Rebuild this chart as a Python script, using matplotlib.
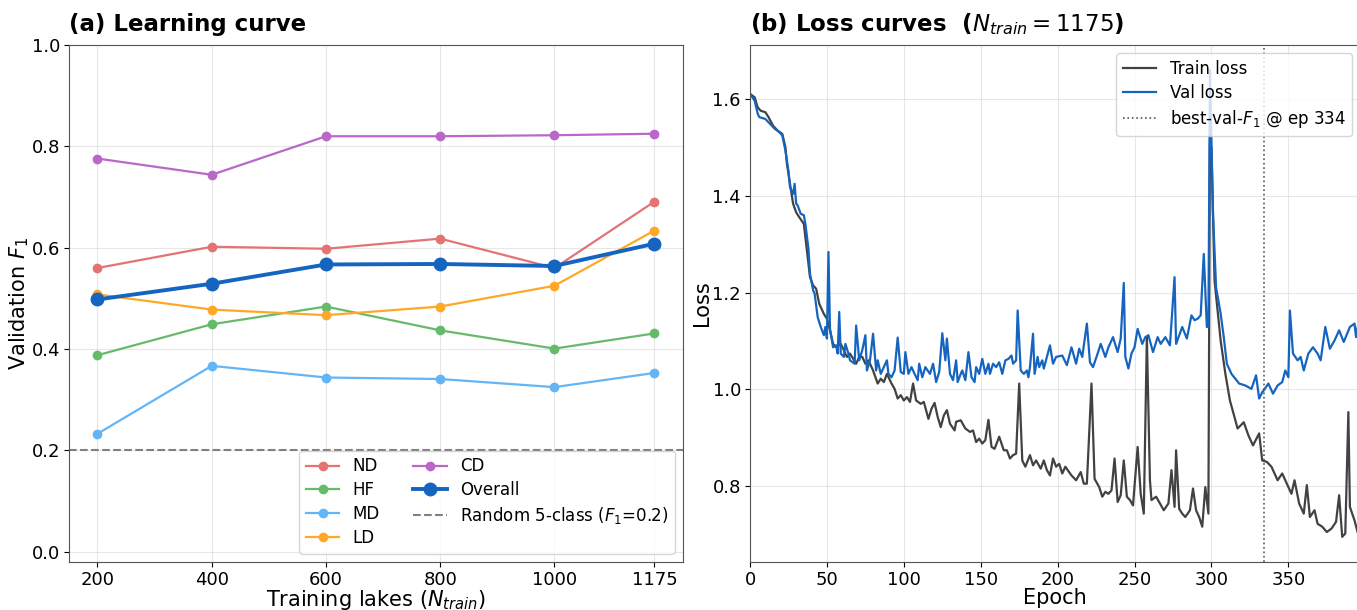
import numpy as np
import matplotlib
matplotlib.use("Agg")
import matplotlib.pyplot as plt

# (a) learning curve data
n_train = [200, 400, 600, 800, 1000, 1175]
f1_nd = [0.560, 0.602, 0.598, 0.618, 0.560, 0.691]
f1_hf = [0.388, 0.449, 0.484, 0.437, 0.401, 0.431]
f1_md = [0.233, 0.367, 0.344, 0.341, 0.325, 0.353]
f1_ld = [0.508, 0.478, 0.467, 0.484, 0.525, 0.634]
f1_cd = [0.776, 0.744, 0.820, 0.820, 0.822, 0.825]
f1_overall = [0.498, 0.529, 0.567, 0.568, 0.564, 0.608]
random_f1 = 0.2

# (b) loss curves
train_ep = [0, 3, 5, 7, 10, 12, 15, 18, 21, 23, 24, 26, 28, 30, 32, 35, 37, 39, 41, 43,
            45, 48, 50, 52, 54, 56, 59, 61, 63, 65, 69, 71, 73, 75, 77, 80, 83, 85, 87, 89,
            92, 94, 96, 98, 100, 102, 104, 106, 108, 111, 113, 116, 118, 120, 122, 124, 126, 128, 130, 133,
            134, 137, 140, 143, 145, 147, 149, 151, 153, 155, 157, 159, 162, 165, 167, 169, 171, 173, 175, 177,
            179, 182, 184, 186, 189, 191, 193, 195, 197, 199, 201, 203, 205, 209, 212, 215, 217, 219, 220, 222,
            224, 227, 229, 231, 233, 235, 237, 239, 241, 243, 245, 247, 249, 252, 254, 256, 258, 260, 261, 264,
            266, 269, 272, 274, 276, 277, 279, 281, 283, 286, 288, 290, 292, 294, 296, 298, 299, 300, 301, 302,
            306, 309, 312, 317, 321, 324, 327, 331, 333, 336, 339, 343, 346, 350, 352, 354, 357, 360, 362, 364,
            367, 369, 372, 375, 378, 381, 383, 385, 387, 389, 390, 393, 395]
train_loss = [1.611, 1.604, 1.583, 1.576, 1.573, 1.563, 1.545, 1.535, 1.528, 1.501, 1.466, 1.425, 1.384, 1.366, 1.356, 1.342, 1.287, 1.232, 1.215, 1.208,
              1.177, 1.156, 1.146, 1.122, 1.094, 1.087, 1.094, 1.081, 1.067, 1.074, 1.053, 1.067, 1.067, 1.053, 1.060, 1.039, 1.012, 1.022, 1.015, 1.032,
              1.012, 1.001, 0.981, 0.988, 0.977, 0.984, 0.974, 1.012, 0.977, 0.970, 0.974, 0.939, 0.960, 0.972, 0.943, 0.922, 0.946, 0.957, 0.929, 0.915,
              0.933, 0.936, 0.919, 0.912, 0.915, 0.891, 0.898, 0.888, 0.895, 0.937, 0.881, 0.877, 0.902, 0.874, 0.874, 0.857, 0.864, 0.867, 1.012, 0.853,
              0.840, 0.864, 0.843, 0.853, 0.836, 0.853, 0.833, 0.822, 0.857, 0.840, 0.846, 0.826, 0.840, 0.822, 0.812, 0.829, 0.805, 0.805, 0.874, 1.012,
              0.815, 0.798, 0.778, 0.788, 0.784, 0.791, 0.857, 0.767, 0.781, 0.853, 0.778, 0.771, 0.760, 0.881, 0.784, 0.743, 1.108, 0.812, 0.771, 0.778,
              0.767, 0.750, 0.764, 0.833, 0.757, 0.874, 0.753, 0.743, 0.736, 0.750, 0.795, 0.750, 0.736, 0.716, 0.798, 0.743, 1.508, 1.500, 1.364, 1.225,
              1.100, 1.033, 0.977, 0.919, 0.932, 0.905, 0.884, 0.909, 0.853, 0.850, 0.840, 0.812, 0.826, 0.798, 0.784, 0.812, 0.764, 0.743, 0.802, 0.736,
              0.750, 0.722, 0.716, 0.705, 0.712, 0.726, 0.781, 0.695, 0.702, 0.953, 0.757, 0.729, 0.705]

val_ep = [0, 3, 5, 6, 10, 13, 16, 19, 21, 23, 25, 26, 28, 29, 30, 31, 33, 35, 36, 38,
          39, 41, 42, 44, 46, 48, 49, 50, 51, 52, 54, 56, 57, 58, 59, 61, 62, 64, 65, 68,
          69, 71, 73, 75, 76, 78, 80, 82, 83, 85, 87, 89, 90, 92, 94, 96, 98, 100, 101, 103,
          105, 107, 109, 110, 112, 114, 117, 119, 121, 123, 125, 127, 128, 130, 132, 134, 135, 137, 138, 140,
          142, 144, 146, 147, 149, 151, 153, 155, 156, 158, 160, 162, 164, 166, 168, 170, 171, 173, 174, 176,
          178, 180, 181, 182, 184, 185, 187, 188, 190, 191, 193, 195, 197, 199, 203, 206, 209, 212, 214, 216,
          219, 221, 223, 226, 228, 231, 233, 236, 239, 241, 243, 244, 246, 248, 250, 252, 255, 257, 259, 262,
          265, 267, 270, 273, 276, 277, 281, 284, 287, 289, 291, 293, 295, 297, 298, 299, 301, 303, 306, 308,
          310, 313, 318, 322, 326, 329, 331, 333, 334, 337, 340, 343, 346, 348, 350, 351, 353, 356, 358, 360,
          363, 366, 369, 371, 374, 377, 380, 383, 386, 390, 393, 394, 396]
val_loss = [1.611, 1.597, 1.570, 1.563, 1.559, 1.549, 1.539, 1.532, 1.525, 1.494, 1.452, 1.418, 1.404, 1.425, 1.384, 1.380, 1.363, 1.360, 1.342, 1.291,
            1.239, 1.205, 1.198, 1.149, 1.129, 1.112, 1.129, 1.105, 1.284, 1.125, 1.087, 1.091, 1.074, 1.160, 1.074, 1.067, 1.094, 1.074, 1.060, 1.053,
            1.132, 1.060, 1.081, 1.112, 1.039, 1.060, 1.115, 1.039, 1.060, 1.032, 1.046, 1.060, 1.032, 1.025, 1.039, 1.107, 1.036, 1.032, 1.077, 1.032,
            1.046, 1.032, 1.019, 1.053, 1.025, 1.046, 1.032, 1.053, 1.015, 1.036, 1.116, 1.060, 1.105, 1.032, 1.019, 1.060, 1.015, 1.032, 1.039, 1.019,
            1.077, 1.025, 1.015, 1.046, 1.032, 1.063, 1.032, 1.053, 1.032, 1.053, 1.046, 1.056, 1.032, 1.060, 1.063, 1.070, 1.053, 1.060, 1.163, 1.039,
            1.032, 1.039, 1.025, 1.046, 1.115, 1.032, 1.067, 1.046, 1.060, 1.043, 1.067, 1.091, 1.053, 1.067, 1.070, 1.050, 1.087, 1.053, 1.084, 1.067,
            1.136, 1.056, 1.046, 1.074, 1.094, 1.067, 1.087, 1.108, 1.077, 1.105, 1.220, 1.067, 1.043, 1.074, 1.087, 1.125, 1.094, 1.108, 1.112, 1.077,
            1.108, 1.094, 1.108, 1.091, 1.232, 1.094, 1.129, 1.105, 1.153, 1.143, 1.146, 1.153, 1.280, 1.129, 1.129, 1.660, 1.363, 1.211, 1.156, 1.108,
            1.053, 1.032, 1.012, 1.008, 1.001, 1.029, 0.981, 0.994, 0.998, 1.012, 0.991, 1.008, 1.015, 1.039, 1.025, 1.163, 1.074, 1.060, 1.067, 1.039,
            1.074, 1.087, 1.074, 1.060, 1.129, 1.084, 1.101, 1.122, 1.098, 1.129, 1.136, 1.108, 1.146]
best_epoch = 334

fig = plt.figure(figsize=(13.57, 6.10), dpi=100)
ax1 = fig.add_axes([0.0508, 0.0787, 0.4525, 0.8475])
ax2 = fig.add_axes([0.5527, 0.0787, 0.4500, 0.8475])

# ---- (a) learning curve
classes = [("ND", f1_nd, "#E57373"), ("HF", f1_hf, "#66BB6A"), ("MD", f1_md, "#64B5F6"),
           ("LD", f1_ld, "#FFA726"), ("CD", f1_cd, "#BA68C8")]
for name, vals, col in classes:
    ax1.plot(n_train, vals, "-o", color=col, lw=1.6, ms=6, label=name)
ax1.plot(n_train, f1_overall, "-o", color="#1565C0", lw=2.8, ms=9, label="Overall")
ax1.axhline(random_f1, color="gray", ls="--", lw=1.5, label=r"Random 5-class ($F_1$=0.2)")
ax1.set_xlim(150, 1225)
ax1.set_ylim(-0.02, 1.0)
ax1.set_xticks(n_train)
ax1.set_yticks([0.0, 0.2, 0.4, 0.6, 0.8, 1.0])
ax1.set_xlabel(r"Training lakes ($N_{train}$)", fontsize=15, labelpad=-1)
ax1.set_ylabel(r"Validation $F_1$", fontsize=15, labelpad=0)
ax1.set_title("(a) Learning curve", fontsize=16.5, fontweight="bold", loc="left", pad=10)
ax1.legend(loc="lower right", ncol=2, fontsize=12, labelspacing=0.35)

# ---- (b) loss curves
ax2.plot(train_ep, train_loss, color="#424242", lw=1.6, label="Train loss")
ax2.plot(val_ep, val_loss, color="#1565C0", lw=1.6, label="Val loss")
ax2.axvline(best_epoch, color="#555555", ls=":", lw=1.2, label=r"best-val-$F_1$ @ ep %d" % best_epoch)
ax2.set_xlim(0, 397)
ax2.set_ylim(0.643, 1.712)
ax2.set_xticks([0, 50, 100, 150, 200, 250, 300, 350])
ax2.set_yticks([0.8, 1.0, 1.2, 1.4, 1.6])
ax2.set_xlabel("Epoch", fontsize=15, labelpad=-1)
ax2.set_ylabel("Loss", fontsize=15, labelpad=0)
ax2.set_title(r"(b) Loss curves  ($N_{train}=1175$)", fontsize=16.5, fontweight="bold", loc="left", pad=10)
ax2.legend(loc="upper right", fontsize=12, labelspacing=0.35)

for ax in (ax1, ax2):
    ax.grid(True, color="#dddddd", lw=0.8, alpha=0.7)
    ax.tick_params(labelsize=13, pad=3)
    for s in ax.spines.values():
        s.set_color("#555555")

fig.savefig("out.png", dpi=100)
